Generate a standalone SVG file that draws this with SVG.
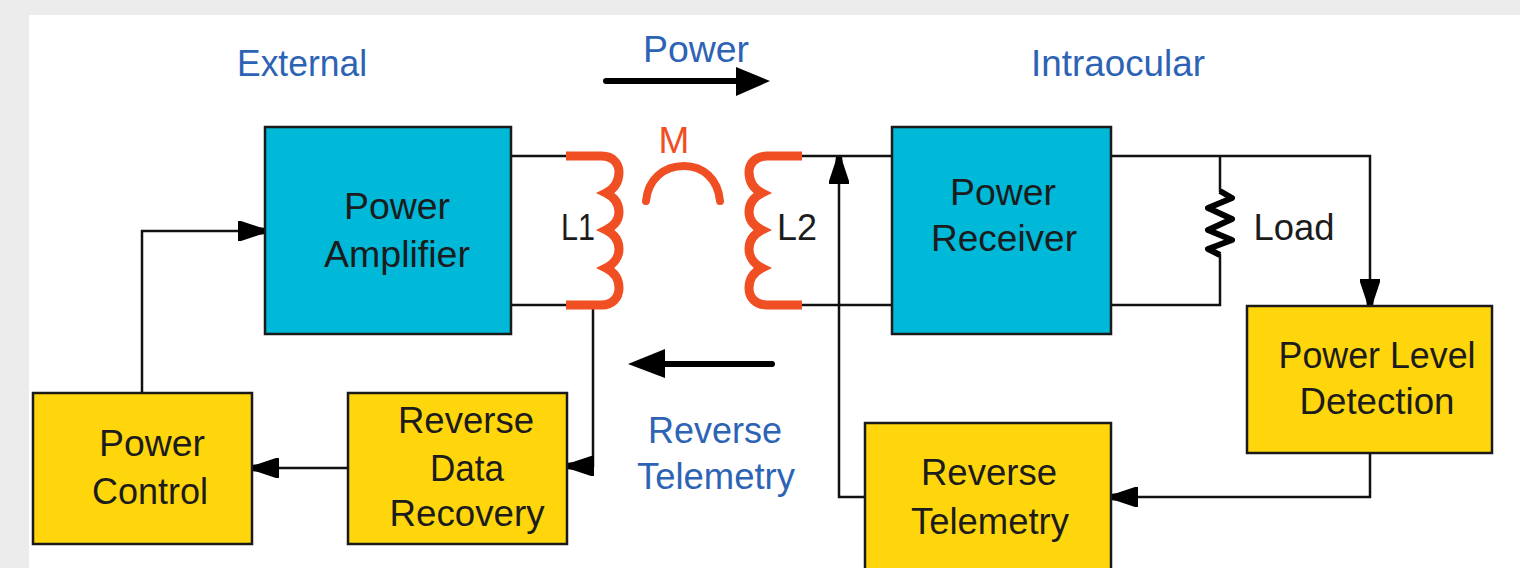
<svg xmlns="http://www.w3.org/2000/svg" width="1520" height="568" viewBox="0 0 1520 568">
<style>
text{font-family:"Liberation Sans",Arial,sans-serif;font-size:37px;fill:#1c1c1c;text-anchor:middle}
.blue{fill:#2d63b4}
.teal{fill:#00b8d8;stroke:#1a1a1a;stroke-width:2.5}
.yellow{fill:#ffd60b;stroke:#1a1a1a;stroke-width:2.5}
.wire{fill:none;stroke:#111;stroke-width:2.5}
.coil{fill:none;stroke:#f04e23;stroke-width:9;stroke-linejoin:miter;stroke-miterlimit:6}
.bold{fill:none;stroke:#000;stroke-width:6;stroke-linecap:round}
</style>
<defs>
<marker id="head" markerUnits="userSpaceOnUse" markerWidth="30" markerHeight="24" refX="29" refY="12" orient="auto">
<path d="M2,2 L5,2 L23,8 L29,9 L29,15 L23,16 L5,22 L2,22 Z" fill="#000"/>
</marker>
</defs>
<rect width="1520" height="568" fill="#ececec"/>
<rect x="29" y="15" width="1491" height="553" fill="#fff"/>
<g id="connectors">
<path class="wire" d="M511,156H568M511,305H568M800,156H892M800,305H892"/>
<path class="wire" d="M1111,156H1370V306" marker-end="url(#head)"/>
<path class="wire" d="M1220,156V192M1220,254V305H1111"/>
<path d="M1220,191L1232,198L1208,208L1232,219L1208,230L1232,240L1208,249L1220,255" fill="none" stroke="#000" stroke-width="6" stroke-linejoin="round" id="load-resistor"/>
<path class="wire" d="M593,305V466H567" marker-end="url(#head)"/>
<path class="wire" d="M348,468H252" marker-end="url(#head)"/>
<path class="wire" d="M142,393V231H265" marker-end="url(#head)"/>
<path class="wire" d="M1370,453V497H1111" marker-end="url(#head)"/>
<path class="wire" d="M865,497H839V157" marker-end="url(#head)"/>
<path class="bold" d="M606,81H742"/>
<path d="M736,67L770,81L736,96Z" fill="#000"/>
<path class="bold" d="M772,364H660"/>
<path d="M665,349L628,364L665,378Z" fill="#000"/>
</g>
<g id="coil-l1"><path class="coil" d="M566,156H602C613,156 619,164 619,172C619,183 614,189 606,193C614,197 619,203 619,212C619,220 614,226 606,230C614,234 619,240 619,249C619,257 614,264 606,268C614,272 619,278 619,288C619,298 612,305 602,305H566"/></g>
<g id="coil-l2"><path class="coil" d="M802,156H767C755,156 749,164 749,172C749,183 754,189 762,193C754,197 749,203 749,212C749,220 754,226 762,230C754,234 749,240 749,249C749,257 754,264 762,268C754,272 749,278 749,288C749,298 756,305 767,305H802"/></g>
<g id="coupling-m"><path class="coil" d="M646,201C648,179 664,166 684,166C703,166 718,179 720,201" style="stroke-linecap:round;stroke-width:8"/><text x="674" y="153" style="fill:#f04e23">M</text></g>
<g id="power-amplifier"><rect class="teal" x="265" y="127" width="246" height="207"/><text x="397" y="219" textLength="106" lengthAdjust="spacingAndGlyphs">Power</text><text x="397" y="267" textLength="146" lengthAdjust="spacingAndGlyphs">Amplifier</text></g>
<g id="power-receiver"><rect class="teal" x="892" y="127" width="219" height="207"/><text x="1003" y="205" textLength="106" lengthAdjust="spacingAndGlyphs">Power</text><text x="1004" y="251" textLength="146" lengthAdjust="spacingAndGlyphs">Receiver</text></g>
<g id="power-level-detection"><rect class="yellow" x="1247" y="306" width="245" height="147"/><text x="1377" y="368" textLength="197" lengthAdjust="spacingAndGlyphs">Power Level</text><text x="1377" y="414" textLength="155" lengthAdjust="spacingAndGlyphs">Detection</text></g>
<g id="reverse-telemetry"><rect class="yellow" x="865" y="423" width="246" height="150"/><text x="989" y="485" textLength="136" lengthAdjust="spacingAndGlyphs">Reverse</text><text x="990" y="534" textLength="158" lengthAdjust="spacingAndGlyphs">Telemetry</text></g>
<g id="power-control"><rect class="yellow" x="33" y="393" width="219" height="151"/><text x="152" y="456" textLength="106" lengthAdjust="spacingAndGlyphs">Power</text><text x="150" y="504" textLength="116" lengthAdjust="spacingAndGlyphs">Control</text></g>
<g id="reverse-data-recovery"><rect class="yellow" x="348" y="393" width="219" height="151"/><text x="466" y="433" textLength="136" lengthAdjust="spacingAndGlyphs">Reverse</text><text x="467" y="481" textLength="74" lengthAdjust="spacingAndGlyphs">Data</text><text x="467" y="526" textLength="155" lengthAdjust="spacingAndGlyphs">Recovery</text></g>
<g id="labels">
<text class="blue" x="302" y="76" textLength="130" lengthAdjust="spacingAndGlyphs">External</text>
<text class="blue" x="696" y="62" textLength="106" lengthAdjust="spacingAndGlyphs">Power</text>
<text class="blue" x="1118" y="76" textLength="174" lengthAdjust="spacingAndGlyphs">Intraocular</text>
<text class="blue" x="715" y="443" textLength="134" lengthAdjust="spacingAndGlyphs">Reverse</text>
<text class="blue" x="716" y="489" textLength="158" lengthAdjust="spacingAndGlyphs">Telemetry</text>
<text x="578" y="240" textLength="34" lengthAdjust="spacingAndGlyphs">L1</text>
<text x="797" y="240" textLength="40" lengthAdjust="spacingAndGlyphs">L2</text>
<text x="1294" y="240" textLength="81" lengthAdjust="spacingAndGlyphs">Load</text>
</g>
</svg>
